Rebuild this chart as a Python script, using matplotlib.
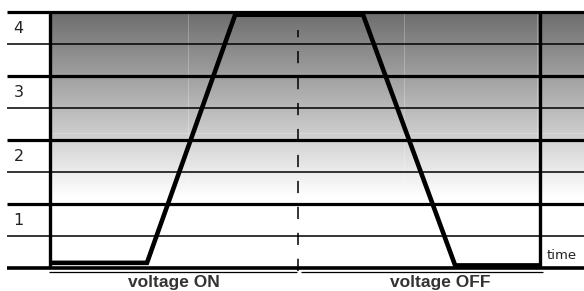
import numpy as np
import matplotlib
matplotlib.use("Agg")
import matplotlib.pyplot as plt

# ---------------- data
# time axis: 0 = left frame, 100 = right frame
curve_t = [0.4, 19.8, 37.8, 63.9, 82.7, 100.0]
curve_level = [0.08, 0.08, 3.96, 3.96, 0.04, 0.04]

level_labels = ["1", "2", "3", "4"]
label_pos = [0.75, 1.75, 2.75, 3.75]
major_levels = [0, 1, 2, 3, 4]
minor_levels = [0.5, 1.5, 2.5, 3.5]

switch_t = 50.6  # voltage ON -> OFF
phase_names = ["voltage ON", "voltage OFF"]
phase_text_t = [25.3, 79.6]
phase_span = [(-0.2, 50.4), (51.2, 100.6)]

# ---------------- figure
fig = plt.figure(figsize=(5.84, 2.91), dpi=100)
ax = fig.add_axes([0, 0, 1, 1])
ax.set_xlim(-10.2, 109.0)
ax.set_ylim(-0.36, 4.19)
ax.axis("off")

# gray gradient background, dark at the top, white around level 1
lv = np.linspace(4, 0, 400)
gray = np.clip(0.43 + (4 - lv) / 2.9 * 0.57, 0, 1)
img = np.repeat(gray[:, None], 2, axis=1)
ax.imshow(img, cmap="gray", vmin=0, vmax=1, aspect="auto",
          extent=(0, 109.0, 0, 4), interpolation="bilinear", zorder=0)

# faint light grid inside the gradient
for t in [28.1, 72.2, 99.4]:
    ax.plot([t, t], [0, 4], color="white", lw=0.7, alpha=0.25, zorder=1)
ax.plot([0, 109], [2.11, 2.11], color="white", lw=0.7, alpha=0.25, zorder=1)

# horizontal lines
for lvl in major_levels:
    ax.plot([-8.8, 109.0], [lvl, lvl], color="black",
            lw=2.3 if lvl else 2.6, solid_capstyle="butt", zorder=2)
for lvl in minor_levels:
    ax.plot([-8.8, 109.0], [lvl, lvl], color="black", lw=1.1,
            solid_capstyle="butt", zorder=2)

# frame verticals
for t in [0, 100]:
    ax.plot([t, t], [0, 4], color="black", lw=2.4, solid_capstyle="butt", zorder=3)

# dashed switch line
ax.plot([switch_t, switch_t], [-0.05, 3.72], color="black", lw=1.1,
        dashes=(8, 9), zorder=3)

# response curve
ax.plot(curve_t, curve_level, color="black", lw=3.3,
        solid_joinstyle="miter", solid_capstyle="butt", zorder=4)

# level labels
for txt, y in zip(level_labels, label_pos):
    ax.text(-6.4, y, txt, ha="center", va="center", fontsize=11.5,
            family="DejaVu Sans", color="#222222")

ax.text(101.4, 0.2, "time", ha="left", va="center", fontsize=9.5,
        family="DejaVu Sans", color="#222222")

# phase labels
for (a, b), name, t in zip(phase_span, phase_names, phase_text_t):
    ax.plot([a, b], [-0.07, -0.07], color="black", lw=0.9,
            solid_capstyle="butt", zorder=3)
    ax.text(t, -0.23, name, ha="center", va="center", fontsize=12.5,
            fontweight="bold", family="Liberation Sans", color="#333333")

fig.savefig("out.png", dpi=100)
